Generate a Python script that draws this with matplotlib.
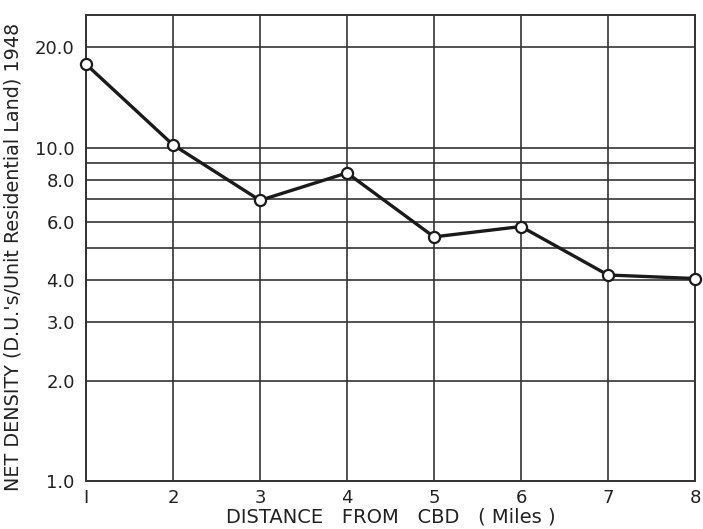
import numpy as np
from matplotlib import pyplot as plt
from matplotlib.ticker import FixedLocator, NullFormatter

# distance from CBD (miles) and net density readings
miles = [1, 2, 3, 4, 5, 6, 7, 8]
density = [17.8, 10.2, 6.95, 8.4, 5.4, 5.8, 4.15, 4.05]

y_major = [1, 2, 3, 4, 6, 8, 10, 20]
y_major_labels = ['1.0', '2.0', '3.0', '4.0', '6.0', '8.0', '10.0', '20.0']
y_minor = [5, 7, 9]
x_labels = ['I', '2', '3', '4', '5', '6', '7', '8']

plt.rcParams['font.family'] = ['DejaVu Sans']
ink = '#222222'

fig = plt.figure(figsize=(7.03, 5.29), dpi=100)
ax = fig.add_axes([0.1223, 0.0907, 0.8663, 0.8809])

ax.set_yscale('log')
ax.set_ylim(1, 25)
ax.set_xlim(1, 8)

ax.yaxis.set_major_locator(FixedLocator(y_major))
ax.set_yticklabels(y_major_labels)
ax.yaxis.set_minor_locator(FixedLocator(y_minor))
ax.yaxis.set_minor_formatter(NullFormatter())
ax.set_xticks(miles)
ax.set_xticklabels(x_labels)

ax.grid(True, which='both', axis='both', color='#333333', lw=1.2)
ax.set_axisbelow(True)
ax.tick_params(which='both', length=0, labelsize=13, colors=ink)
ax.tick_params(axis='y', pad=8)
ax.tick_params(axis='x', pad=6)
for s in ax.spines.values():
    s.set_color('#333333')
    s.set_linewidth(1.4)

ax.plot(miles, density, color='#1a1a1a', lw=2.4, marker='o', ms=8,
        mfc='white', mec='#1a1a1a', mew=1.6, clip_on=False, zorder=5)

ax.set_xlabel('DISTANCE   FROM   CBD   ( Miles )', fontsize=14, color=ink)
ax.set_ylabel("NET DENSITY (D.U.'s/Unit Residential Land) 1948", fontsize=13.8,
              color=ink)
ax.xaxis.set_label_coords(0.5, -0.056)
ax.yaxis.set_label_coords(-0.104, 0.48)

fig.savefig('out.png', dpi=100)
